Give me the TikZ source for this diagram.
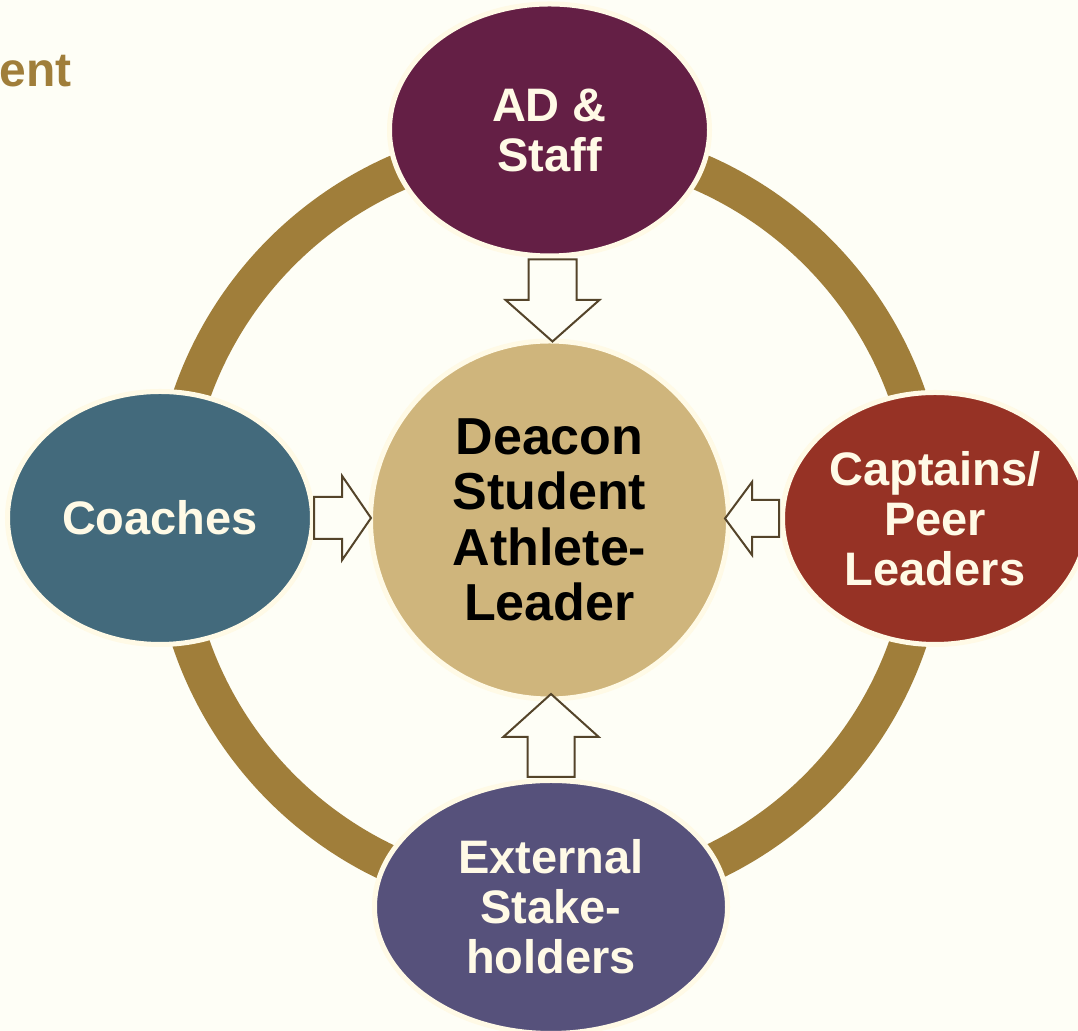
\documentclass[tikz,border=0pt]{standalone}
\usepackage{fontspec}
\setmainfont{Liberation Sans}
\usepackage{tikz}
\usetikzlibrary{shapes.geometric,shapes.arrows}

\definecolor{paper}{HTML}{FEFEF6}
\definecolor{rim}{HTML}{FFFAE6}
\definecolor{gold}{HTML}{A07E3A}
\definecolor{sand}{HTML}{CFB57C}
\definecolor{plum}{HTML}{641F45}
\definecolor{slate}{HTML}{436A7C}
\definecolor{rust}{HTML}{963225}
\definecolor{iris}{HTML}{56517B}
\definecolor{umber}{HTML}{54442A}

\tikzset{
  group/.style={ellipse, draw=rim, line width=0.1cm, inner sep=0pt,
    text=rim, align=center,
    font=\fontsize{26.75pt}{28.45pt}\selectfont\bfseries},
  hub/.style={circle, draw=rim, line width=0.1cm, fill=sand, inner sep=0pt,
    minimum size=7.16cm, text=black, align=center,
    font=\fontsize{29.6pt}{31.6pt}\selectfont\bfseries},
  push/.style={single arrow, draw=umber, fill=paper, line width=0.04cm,
    inner xsep=0pt, text height=0pt, text depth=0pt, anchor=tail}
}

\begin{document}
\begin{tikzpicture}
%\draw[help lines] (0,0) grid (21,20);

% Define the centres of the ring and the groups
\pgfmathsetmacro{\Xleft}{3.2};
\pgfmathsetmacro{\Xmid}{10.99};
\pgfmathsetmacro{\Xright}{18.7};
\pgfmathsetmacro{\Ybot}{2.48};
\pgfmathsetmacro{\Ymid}{10.22};
\pgfmathsetmacro{\Ytop}{18.02};

% page and background
\useasboundingbox (0,0) rectangle (21.56,20.62);
\fill [paper] (0,0) rectangle (21.56,20.62);

\node[anchor=base west, inner sep=0pt, text=gold,
  font=\fontsize{27.3pt}{30pt}\selectfont\bfseries]
  (heading) at (-0.02,18.88) {ent};

% draw the ring behind everything
\draw [gold,line width=0.74cm] (\Xmid,\Ymid) circle [radius=7.58];

% the student in the middle
\node[hub] (leader) at (\Xmid,\Ymid) {Deacon\\Student\\Athlete-\\Leader};

% the four groups round the ring
\node[group, fill=plum, minimum width=6.4cm, minimum height=5.04cm]
  (staff) at (\Xmid,\Ytop) {AD \&\\Staff};
\node[group, fill=slate, minimum width=6.1cm, minimum height=5.06cm]
  (coaches) at (\Xleft,10.26) {Coaches};
\node[group, fill=rust, minimum width=6.1cm, minimum height=5.04cm]
  (captains) at (\Xright,10.25) {Captains/\\Peer\\Leaders};
\node[group, fill=iris, minimum width=7.06cm, minimum height=5.06cm]
  (external) at (11.02,\Ybot) {External\\Stake-\\holders};

% Draw the block arrows pointing in, tail on the group
\node[push, rotate=-90, inner ysep=0.46cm, single arrow head extend=0.46cm,
  single arrow tip angle=97, minimum height=1.64cm]
  (fromstaff) at ([xshift=0.06cm]staff.south) {};
\node[push, inner ysep=0.4cm, single arrow head extend=0.42cm,
  single arrow tip angle=111, minimum height=1.14cm]
  (fromcoaches) at ([xshift=-0.04cm]coaches.east) {};
\node[push, rotate=180, inner ysep=0.35cm, single arrow head extend=0.36cm,
  single arrow tip angle=107, minimum height=1.08cm]
  (fromcaptains) at (captains.west) {};
\node[push, rotate=90, inner ysep=0.45cm, single arrow head extend=0.48cm,
  single arrow tip angle=96, minimum height=1.66cm]
  (fromexternal) at (external.north) {};
\end{tikzpicture}
\end{document}
